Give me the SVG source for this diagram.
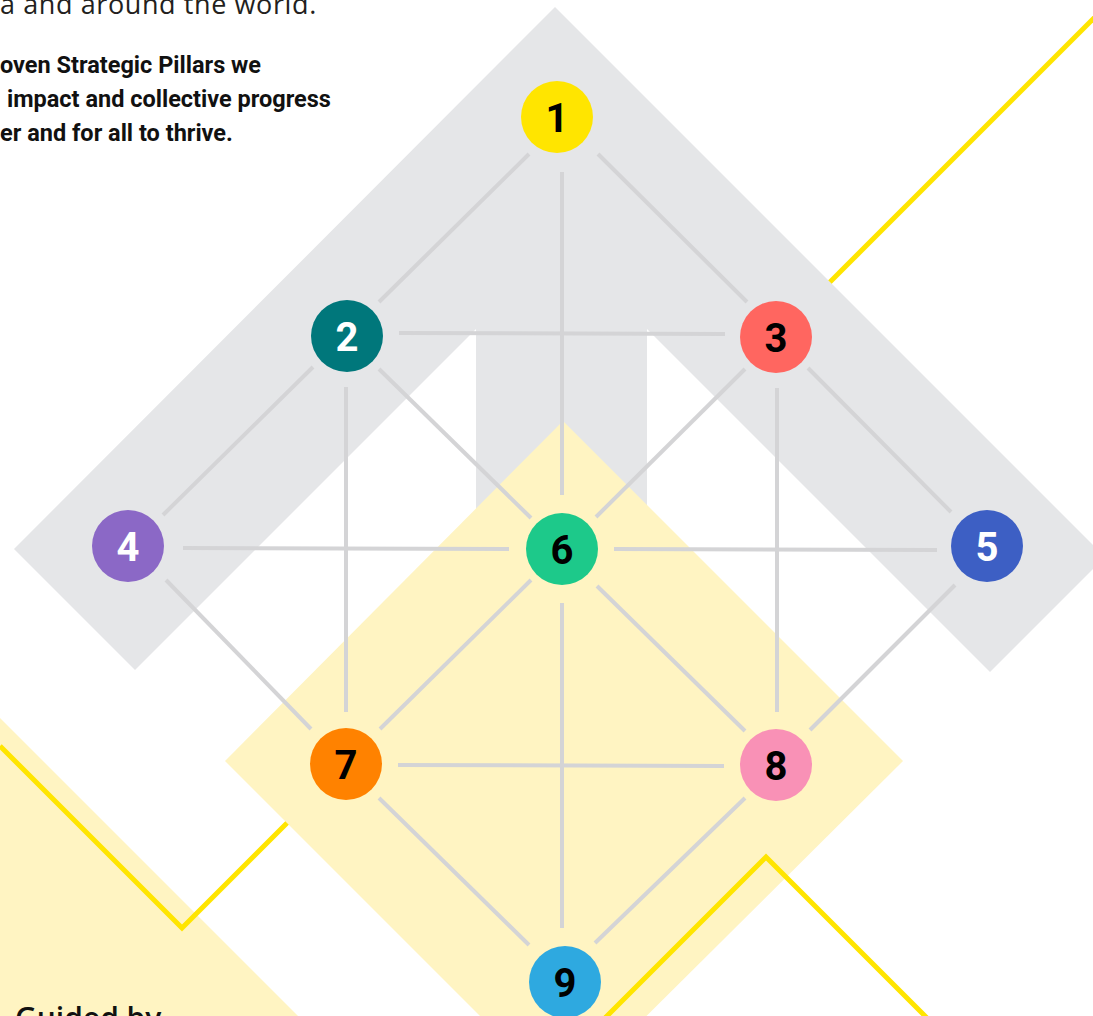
<svg xmlns="http://www.w3.org/2000/svg" width="1093" height="1016" viewBox="0 0 1093 1016">
  <style>
    .band { fill: #E5E6E8; }
    .soft { fill: #FFF4C2; }
    .gold { fill: none; stroke: #FFE500; stroke-width: 5; stroke-linejoin: miter; }
    .edge { stroke: #D4D4D6; stroke-width: 4; fill: none; }
    .num { font-family: Roboto, "Liberation Sans", sans-serif; font-weight: 700; font-size: 40px; text-anchor: middle; }
    .dark { fill: #000000; }
    .light { fill: #FFFFFF; }
    .lead { font-family: Roboto, "Liberation Sans", sans-serif; font-weight: 700; font-size: 23.5px; fill: #111111; }
    .intro { font-family: "Open Sans", "Liberation Sans", sans-serif; font-size: 27px; fill: #231F20; letter-spacing: 0.6px; }
  </style>
  <rect width="1093" height="1016" fill="#FFFFFF"/>

  <!-- background shapes -->
  <g id="background">
    <polygon class="soft" points="0,718 298,1016 0,1016"/>
    <polyline class="gold" points="0,746 182,928 300,810"/>
    <polyline class="gold" points="1105,7 820,292"/>
    <polygon class="band" points="555,7 1105,557 990,672 647,329 647,530 476,530 476,329 135,670 14,549"/>
    <polygon class="soft" points="563,421 903,761 563,1099 225,761"/>
    <polyline class="gold" points="603,1020 766,857 933,1024"/>
  </g>

  <!-- texts -->
  <g id="texts">
    <text class="intro" x="0" y="14">a and around the world.</text>
    <text class="lead" x="0" y="73">oven Strategic Pillars we</text>
    <text class="lead" x="7" y="107">impact and collective progress</text>
    <text class="lead" x="0" y="141">er and for all to thrive.</text>
    <text x="15" y="1029" font-family="'Open Sans', 'Liberation Sans', sans-serif" font-weight="600" font-size="30" fill="#111111">Guided by</text>
  </g>

  <!-- connectors -->
  <g id="connectors" class="edge">
    <line x1="529" y1="154" x2="379" y2="302"/>
    <line x1="598" y1="154" x2="747" y2="302"/>
    <line x1="562" y1="172" x2="562" y2="495"/>
    <line x1="399" y1="333" x2="725" y2="334"/>
    <line x1="313" y1="367" x2="163" y2="515"/>
    <line x1="379" y1="369" x2="531" y2="518"/>
    <line x1="346" y1="387" x2="346" y2="712"/>
    <line x1="808" y1="368" x2="951" y2="512"/>
    <line x1="745" y1="369" x2="596" y2="517"/>
    <line x1="777" y1="388" x2="777" y2="712"/>
    <line x1="183" y1="548" x2="509" y2="549"/>
    <line x1="166" y1="580" x2="311" y2="729"/>
    <line x1="614" y1="549" x2="937" y2="550"/>
    <line x1="955" y1="585" x2="810" y2="730"/>
    <line x1="531" y1="580" x2="380" y2="729"/>
    <line x1="597" y1="586" x2="745" y2="731"/>
    <line x1="562" y1="603" x2="562" y2="928"/>
    <line x1="398" y1="765" x2="724" y2="766"/>
    <line x1="379" y1="798" x2="529" y2="945"/>
    <line x1="745" y1="798" x2="595" y2="943"/>
  </g>

  <!-- nodes -->
  <g id="node-1"><circle cx="557" cy="117" r="36" fill="#FFE500"/><text class="num dark" x="557" y="132">1</text></g>
  <g id="node-2"><circle cx="347" cy="336" r="36" fill="#00777B"/><text class="num light" x="347" y="351">2</text></g>
  <g id="node-3"><circle cx="776" cy="337" r="36" fill="#FF6660"/><text class="num dark" x="776" y="352">3</text></g>
  <g id="node-4"><circle cx="128" cy="546" r="36" fill="#8B68C6"/><text class="num light" x="128" y="561">4</text></g>
  <g id="node-5"><circle cx="987" cy="546" r="36" fill="#3D5FC4"/><text class="num light" x="987" y="561">5</text></g>
  <g id="node-6"><circle cx="562" cy="549" r="36" fill="#1DC98A"/><text class="num dark" x="562" y="564">6</text></g>
  <g id="node-7"><circle cx="346" cy="764" r="36" fill="#FF8200"/><text class="num dark" x="346" y="779">7</text></g>
  <g id="node-8"><circle cx="776" cy="765" r="36" fill="#F991B6"/><text class="num dark" x="776" y="780">8</text></g>
  <g id="node-9"><circle cx="565" cy="982" r="36" fill="#2EA9E0"/><text class="num dark" x="565" y="997">9</text></g>
</svg>
